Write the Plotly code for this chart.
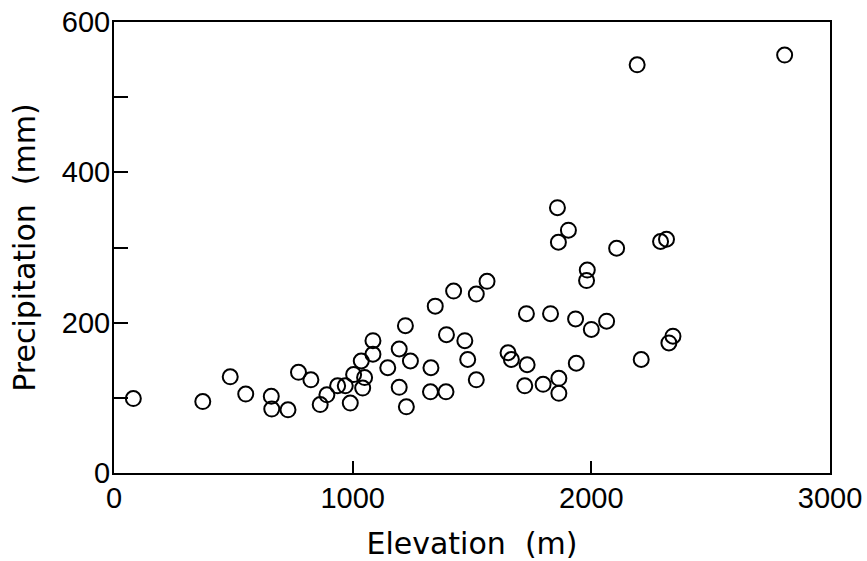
import plotly.graph_objects as go

elevation = [81, 372, 487, 552, 659, 661, 729, 773, 825, 864, 892, 937, 969, 990,
             1004, 1036, 1050, 1042, 1085, 1085, 1147, 1195, 1221, 1242, 1195, 1225,
             1346, 1423, 1518, 1563, 1393, 1470, 1328, 1482, 1518, 1326, 1391,
             1651, 1665, 1731, 1728, 1829, 1721, 1798, 1864, 1864, 1937, 1934,
             2000, 2064, 1983, 1980, 2209, 2325, 2342,
             1858, 1904, 1862, 2106, 2290, 2315, 2192, 2810]
precipitation = [99, 95, 128, 105, 102, 85, 84, 134, 124, 91, 104, 116, 116, 93,
                 131, 149, 127, 113, 176, 158, 140, 165, 196, 149, 114, 88,
                 222, 242, 238, 255, 184, 176, 140, 151, 124, 108, 108,
                 160, 151, 144, 212, 212, 116, 118, 126, 106, 146, 205,
                 191, 202, 270, 256, 151, 173, 182,
                 353, 323, 307, 299, 308, 311, 543, 556]

x_ticks = [0, 1000, 2000, 3000]
x_labels = ["0", "1000", "2000", "3000"]
y_ticks = [0, 100, 200, 300, 400, 500, 600]
y_labels = ["0", "", "200", "", "400", "", "600"]

TICK_FONT = "Liberation Sans, Arial, sans-serif"
TITLE_FONT = "DejaVu Sans, sans-serif"

fig = go.Figure(go.Scatter(
    x=elevation, y=precipitation, mode="markers",
    marker=dict(symbol="circle-open", size=15, color="black", line=dict(width=2, color="black")),
    showlegend=False, hoverinfo="skip",
))

fig.update_layout(
    width=867, height=561,
    margin=dict(l=114, r=37, t=22, b=88),
    paper_bgcolor="white", plot_bgcolor="white",
    font=dict(family=TICK_FONT, color="black", size=29),
)
fig.update_xaxes(
    range=[0, 3000], tickvals=x_ticks, ticktext=x_labels, automargin=False,
    showgrid=False, zeroline=False, showline=True, linecolor="black", linewidth=2,
    mirror=True, ticks="inside", ticklen=12, tickwidth=2, tickcolor="black",
    tickfont=dict(size=29, family=TICK_FONT), ticklabelstandoff=-2,
    ticklabeloverflow="allow",
    title=dict(text="Elevation  (m)", font=dict(size=30, family=TITLE_FONT), standoff=20),
)
fig.update_yaxes(
    range=[0, 600], tickvals=y_ticks, ticktext=y_labels, automargin=False,
    showgrid=False, zeroline=False, showline=True, linecolor="black", linewidth=2,
    mirror=True, ticks="inside", ticklen=14, tickwidth=2, tickcolor="black",
    tickfont=dict(size=29, family=TICK_FONT), ticklabelstandoff=-4,
    ticklabeloverflow="allow",
    title=dict(text="Precipitation  (mm)", font=dict(size=30, family=TITLE_FONT), standoff=17),
)

# remove the browser's default body margin so the figure fills the window exactly
fig.write_html("out.html", config={"displayModeBar": False},
               post_script="document.body.style.margin='0';")
